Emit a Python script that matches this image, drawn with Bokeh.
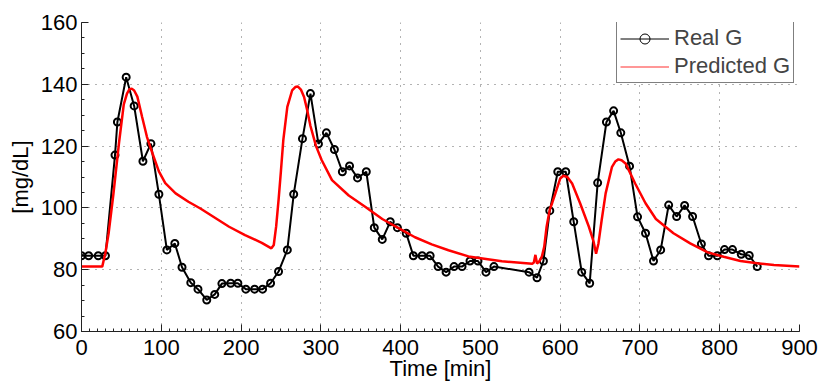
from bokeh.plotting import figure
from bokeh.models import (Legend, LegendItem, SingleIntervalTicker, Range1d,
                          ColumnDataSource)
from bokeh.embed import file_html
from bokeh.resources import INLINE

# ---- data ----
t_real = [0, 9, 21, 30, 42, 45, 56, 66, 77, 87, 97, 107, 117, 126, 137, 146,
          157, 167, 176, 187, 196, 206, 217, 227, 237, 247, 258, 266, 277, 287,
          297, 307, 317, 327, 336, 346, 357, 367, 377, 387, 396, 407, 416, 427,
          437, 447, 457, 467, 477, 487, 497, 507, 517, 561, 571, 579, 587, 597,
          607, 617, 627, 637, 647, 658, 667, 676, 687, 697, 707, 717, 726, 736,
          746, 756, 766, 777, 786, 797, 806, 816, 827, 837, 847]
g_real = [84.5, 84.5, 84.5, 84.5, 117.1, 127.8, 142.3, 133.0, 115.1, 120.8,
          104.4, 86.4, 88.5, 80.8, 75.8, 73.7, 70.2, 72.0, 75.5, 75.6, 75.6,
          73.7, 73.7, 73.7, 75.6, 79.4, 86.4, 104.4, 122.4, 137.0, 120.7, 124.3,
          118.9, 111.7, 113.6, 109.7, 111.7, 93.6, 89.8, 95.5, 93.6, 91.8, 84.5,
          84.5, 84.5, 81.0, 79.2, 81.0, 81.0, 82.8, 82.8, 79.2, 81.0, 79.2,
          77.4, 82.8, 99.1, 111.7, 111.7, 95.5, 79.2, 75.6, 108.1, 127.8, 131.4,
          124.3, 113.5, 97.1, 91.8, 82.8, 86.4, 100.9, 97.2, 100.8, 97.2, 88.3,
          84.5, 84.5, 86.5, 86.5, 85.0, 84.6, 81.0]

t_pred = [0, 26, 30, 34, 40, 47, 53, 57, 60, 63, 66, 70, 76, 82, 89, 97, 105,
          118, 134, 149, 185, 205, 226, 238, 241, 244, 247, 250, 253, 258, 264,
          268, 271, 275, 279, 283, 287, 294, 301, 314, 335, 356, 377, 398, 418,
          439, 460, 485, 527, 565, 567, 569, 571, 574, 577, 580, 583, 587, 590,
          594, 600, 604, 609, 615, 625, 636, 642, 645, 648, 652, 657, 665, 669,
          673, 677, 682, 694, 707, 720, 742, 763, 785, 805, 826, 847, 868, 900]
g_pred = [81.0, 81.0, 85.5, 91.8, 104.5, 121.0, 133.5, 137.0, 138.4, 138.6,
          138.0, 136.0, 129.4, 123.0, 117.6, 111.8, 108.0, 104.7, 102.0, 99.8,
          93.9, 91.2, 88.7, 86.9, 88.0, 94.0, 102.5, 112.0, 122.0, 132.7, 138.0,
          139.1, 139.3, 138.3, 135.9, 131.5, 126.5, 120.0, 115.5, 109.0, 104.0,
          100.3, 96.4, 93.4, 90.5, 88.2, 86.3, 84.3, 82.7, 81.9, 82.3, 84.8,
          82.0, 82.8, 84.2, 87.4, 93.9, 99.5, 101.6, 104.7, 109.5, 110.4, 110.0,
          107.9, 101.5, 93.9, 89.0, 85.2, 88.5, 96.0, 104.7, 113.3, 115.0, 115.7,
          115.4, 114.4, 107.9, 101.5, 96.4, 91.8, 88.5, 85.6, 84.2, 82.8, 82.1,
          81.5, 81.0]

x_tick_step = 100
y_tick_step = 20
legend_labels = ["Real G", "Predicted G"]
x_label = "Time [min]"
y_label = "[mg/dL]"

FONT = "Liberation Sans"
FS = "22px"

p = figure(width=820, height=383, x_range=Range1d(0, 900),
           y_range=Range1d(60, 160), output_backend="svg",
           toolbar_location=None, min_border_left=81, min_border_right=21,
           min_border_top=22, min_border_bottom=51)
p.outline_line_color = None
p.background_fill_color = "white"
p.border_fill_color = "white"

p.xaxis.ticker = SingleIntervalTicker(interval=x_tick_step, num_minor_ticks=10)
p.yaxis.ticker = SingleIntervalTicker(interval=y_tick_step, num_minor_ticks=4)

for ax in (p.xaxis[0], p.yaxis[0]):
    ax.axis_line_color = "#222222"
    ax.major_tick_line_color = "#222222"
    ax.minor_tick_line_color = "#222222"
    ax.major_tick_in = 7
    ax.major_tick_out = 0
    ax.minor_tick_in = 3
    ax.minor_tick_out = 0
    ax.major_label_text_font = FONT
    ax.major_label_text_font_size = FS
    ax.major_label_text_color = "black"
    ax.axis_label_text_font = FONT
    ax.axis_label_text_font_size = FS
    ax.axis_label_text_font_style = "normal"
    ax.axis_label_text_color = "black"

p.xaxis.axis_label = x_label
p.yaxis.axis_label = y_label
p.xaxis.major_label_standoff = 8
p.xaxis.axis_label_standoff = -2
p.yaxis.major_label_standoff = 4
p.yaxis.axis_label_standoff = 5

for g in (p.xgrid[0], p.ygrid[0]):
    g.grid_line_color = "#666666"
    g.grid_line_width = 1
    g.grid_line_dash = "1 6"

src_real = ColumnDataSource(dict(t=t_real, g=g_real))
src_pred = ColumnDataSource(dict(t=t_pred, g=g_pred))

p.line("t", "g", source=src_real, line_color="black", line_width=2)
p.scatter("t", "g", source=src_real, marker="circle", size=7,
          fill_color=None, line_color="black", line_width=2)
p.line("t", "g", source=src_pred, line_color="#ff0000", line_width=2.5)

# legend-only glyphs (thin, as in the reference legend); their data lie
# outside the visible ranges so only the legend swatches show
off_x = [-200, -190]
off_y = [0, 0]
lg_line = p.line(x=off_x, y=off_y, line_color="black", line_width=1)
lg_pt = p.scatter(x=off_x, y=off_y, marker="circle", size=7, fill_color=None,
                  line_color="black", line_width=1)
lg_pred = p.line(x=off_x, y=off_y, line_color="#ff3030", line_width=1.2)

legend = Legend(items=[LegendItem(label=legend_labels[0], renderers=[lg_line, lg_pt]),
                       LegendItem(label=legend_labels[1], renderers=[lg_pred])],
                location=(535, 248), margin=0, padding=3, spacing=2,
                glyph_width=49, glyph_height=25, label_height=25,
                label_standoff=5, label_text_font=FONT,
                label_text_font_size=FS, border_line_color="black",
                border_line_width=1.2, background_fill_color="white",
                background_fill_alpha=1.0)
p.add_layout(legend)

open("out.html", "w").write(file_html(p, INLINE))
